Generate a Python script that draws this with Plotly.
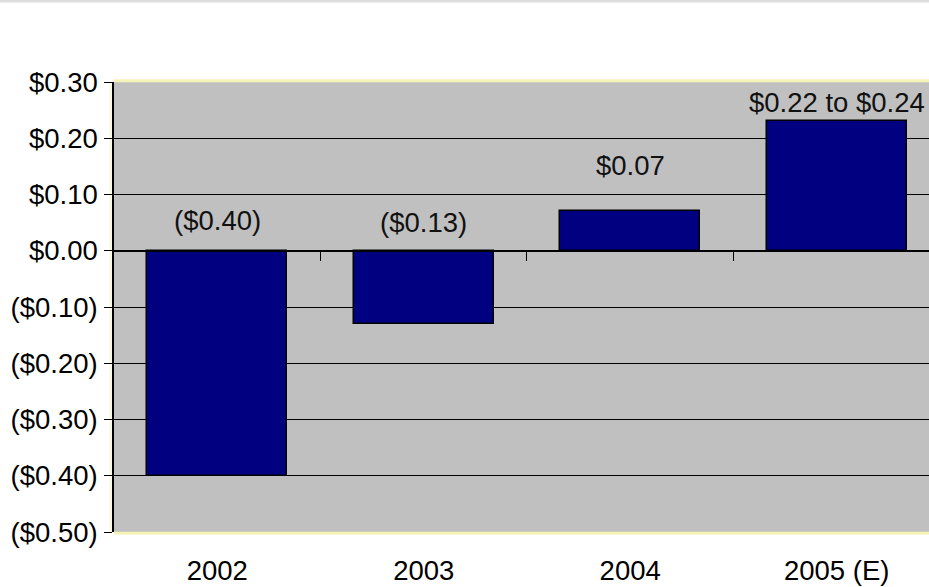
import plotly.graph_objects as go

# Earnings per share by year
years = ["2002", "2003", "2004", "2005 (E)"]
eps = [-0.40, -0.13, 0.07, 0.23]
eps_labels = ["($0.40)", "($0.13)", "$0.07", "$0.22 to $0.24"]

# Value axis ticks
y_ticks = [0.30, 0.20, 0.10, 0.00, -0.10, -0.20, -0.30, -0.40, -0.50]
y_tick_text = ["$0.30", "$0.20", "$0.10", "$0.00", "($0.10)", "($0.20)",
               "($0.30)", "($0.40)", "($0.50)"]

FONT = "Liberation Sans, Arial, sans-serif"
FS = 27.5
NAVY = "#000080"
GREY = "#C0C0C0"

x_pos = list(range(len(years)))
y_range = [min(y_ticks), max(y_ticks)]
x_range = [-0.5, 3.447]

fig = go.Figure()

fig.add_trace(go.Bar(
    x=x_pos, y=eps, width=0.68,
    marker=dict(color=NAVY, line=dict(color="#000000", width=1.5)),
    hoverinfo="skip", showlegend=False,
))

# invisible trace so the category-divider axis along zero is drawn
fig.add_trace(go.Scatter(x=[x_pos[0]], y=[0], xaxis="x2", mode="markers",
                         marker=dict(opacity=0), hoverinfo="skip", showlegend=False))

# value labels: negative bars labelled just above zero, positive above the bar
label_shift = [30, 28, 46, 19]
for xi, v, txt, sh in zip(x_pos, eps, eps_labels, label_shift):
    fig.add_annotation(x=xi, y=max(v, 0), text=txt, showarrow=False,
                       yshift=sh, xanchor="center", yanchor="middle",
                       font=dict(family=FONT, size=FS, color="#111111"))

zero_frac = (0 - y_range[0]) / (y_range[1] - y_range[0])

fig.update_layout(
    width=929, height=587,
    margin=dict(l=114, r=0, t=82, b=55),
    paper_bgcolor="white", plot_bgcolor=GREY,
    font=dict(family=FONT, size=FS, color="#000000"),
    bargap=0,
    xaxis=dict(
        range=x_range, tickvals=x_pos, ticktext=years,
        showgrid=False, zeroline=False, showline=False,
        ticks="", ticklabelstandoff=19, fixedrange=True,
    ),
    xaxis2=dict(
        overlaying="x", anchor="free", position=zero_frac,
        range=x_range, tickvals=[0.5, 1.5, 2.5],
        ticks="outside", ticklen=9, tickwidth=1.2, tickcolor="#000000",
        showline=True, linecolor="#000000", linewidth=1.5,
        showticklabels=False, showgrid=False, zeroline=False,
    ),
    yaxis=dict(
        range=y_range, tickvals=y_ticks, ticktext=y_tick_text,
        showgrid=True, gridcolor="#000000", gridwidth=1.2,
        zeroline=False, showline=True, linecolor="#000000", linewidth=1.5,
        ticks="outside", ticklen=8, tickcolor="#000000", tickwidth=1.2,
        ticklabelstandoff=1, fixedrange=True,
    ),
    shapes=[
        # pale yellow frame along the top, bottom and left of the plot area
        dict(type="line", xref="paper", yref="paper", x0=0, x1=1, y0=1.003, y1=1.003,
             line=dict(color="#F6F3B8", width=3), layer="above"),
        dict(type="line", xref="paper", yref="paper", x0=0, x1=1, y0=-0.003, y1=-0.003,
             line=dict(color="#F6F3B8", width=3), layer="above"),
        dict(type="line", xref="paper", yref="paper", x0=-0.004, x1=-0.004, y0=0, y1=1,
             line=dict(color="#FAF8D8", width=2), layer="below"),
        # faint rule across the very top of the page
        dict(type="line", xref="paper", yref="paper", x0=-0.2, x1=1.0,
             y0=1.18, y1=1.18, line=dict(color="#DDDDDD", width=3)),
    ],
)

fig.write_html("out.html")
